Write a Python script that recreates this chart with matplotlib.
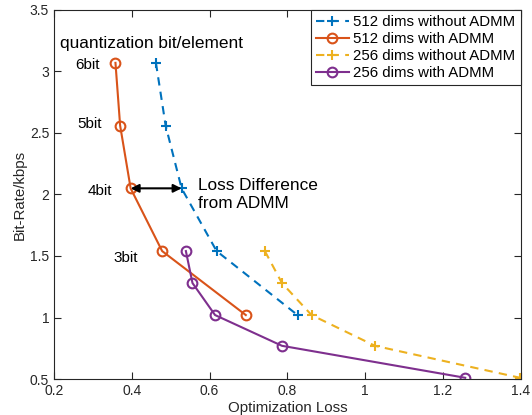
import matplotlib
matplotlib.use("Agg")
import matplotlib.pyplot as plt

plt.rcParams['font.family'] = ['Liberation Sans', 'DejaVu Sans']

# data
loss_512_plain = [0.462, 0.487, 0.528, 0.618, 0.826]
rate_512_plain = [3.07, 2.56, 2.05, 1.54, 1.02]
loss_512_admm = [0.358, 0.370, 0.397, 0.478, 0.693]
rate_512_admm = [3.07, 2.56, 2.05, 1.54, 1.02]
loss_256_plain = [0.742, 0.786, 0.862, 1.025, 1.398]
rate_256_plain = [1.54, 1.28, 1.02, 0.77, 0.51]
loss_256_admm = [0.539, 0.556, 0.614, 0.786, 1.257]
rate_256_admm = [1.54, 1.28, 1.02, 0.77, 0.51]
bit_labels = ["6bit", "5bit", "4bit", "3bit"]
bit_label_x = [0.318, 0.323, 0.349, 0.416]
bit_label_y = [3.05, 2.57, 2.03, 1.48]

fig = plt.figure(figsize=(5.32, 4.15), dpi=100)
ax = fig.add_axes([0.1015, 0.0867, 0.8775, 0.8893])

ax.plot(loss_512_plain, rate_512_plain, '--+', color='#0072BD', lw=1.5, ms=7, mew=1.5,
        dashes=(4, 3), label='512 dims without ADMM')
ax.plot(loss_512_admm, rate_512_admm, '-o', color='#D95319', lw=1.5, ms=7, mew=1.5,
        mfc='none', label='512 dims with ADMM')
ax.plot(loss_256_plain, rate_256_plain, '--+', color='#EDB120', lw=1.5, ms=7, mew=1.5,
        dashes=(4, 3), label='256 dims without ADMM')
ax.plot(loss_256_admm, rate_256_admm, '-o', color='#7E2F8E', lw=1.5, ms=7, mew=1.5,
        mfc='none', label='256 dims with ADMM')

ax.set_xlim(0.2, 1.4)
ax.set_ylim(0.5, 3.5)
ax.set_xticks([0.2, 0.4, 0.6, 0.8, 1.0, 1.2, 1.4])
ax.set_xticklabels(['0.2', '0.4', '0.6', '0.8', '1', '1.2', '1.4'])
ax.set_yticks([0.5, 1, 1.5, 2, 2.5, 3, 3.5])
ax.set_yticklabels(['0.5', '1', '1.5', '2', '2.5', '3', '3.5'])
ax.tick_params(direction='in', top=True, right=True, labelsize=10, colors='#262626',
               length=5)
for s in ax.spines.values():
    s.set_color('#262626')
    s.set_linewidth(0.8)

ax.set_xlabel('Optimization Loss', fontsize=10.8, color='#262626', labelpad=2)
ax.set_ylabel('Bit-Rate/kbps', fontsize=10.8, color='#262626', labelpad=2)

ax.text(0.215, 3.23, 'quantization bit/element', fontsize=12.4, va='center')
for lab, xx, yy in zip(bit_labels, bit_label_x, bit_label_y):
    ax.text(xx, yy, lab, fontsize=11, ha='right', va='center')

ax.annotate('', xy=(loss_512_admm[2], rate_512_admm[2]),
            xytext=(loss_512_plain[2], rate_512_plain[2]),
            arrowprops=dict(arrowstyle='<|-|>', color='black', lw=1.5,
                            mutation_scale=12, shrinkA=0, shrinkB=0))
ax.text(0.570, 2.0, 'Loss Difference\nfrom ADMM', fontsize=12.4, va='center',
        linespacing=1.2)

leg = ax.legend(loc='upper right', fontsize=10.8, frameon=True, fancybox=False,
                borderaxespad=0, handlelength=2.2, handletextpad=0.3,
                borderpad=0.35, labelspacing=0.2, framealpha=1)
leg.get_frame().set_edgecolor('#262626')
leg.get_frame().set_linewidth(0.8)

fig.savefig('out.png', dpi=100)
